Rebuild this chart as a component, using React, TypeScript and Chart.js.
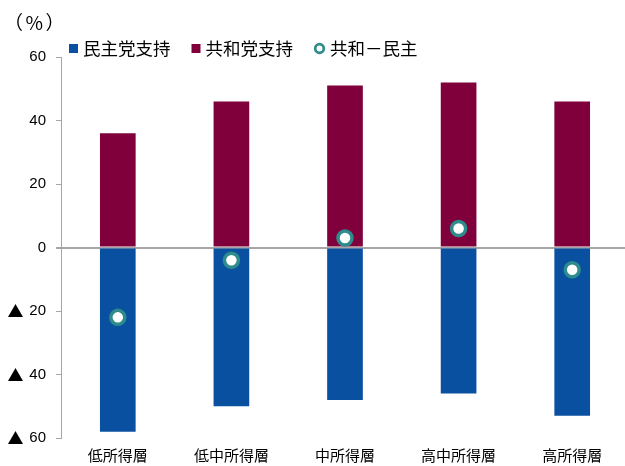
import { useEffect, useRef } from "react";
import { Chart, registerables } from "chart.js";

Chart.register(...registerables);

const categories = ["低所得層", "低中所得層", "中所得層", "高中所得層", "高所得層"];
const democrats = [-58, -50, -48, -46, -53];
const republicans = [36, 46, 51, 52, 46];
const difference = [-22, -4, 3, 6, -7];
const seriesLabels = ["民主党支持", "共和党支持", "共和－民主"];
const unitLabel = "（%）";
const negativeMark = "▲";

const BLUE = "#0a50a0";
const MAROON = "#80003c";
const TEAL = "#2e8c8c";
const GRAY = "#a6a6a6";
const CJK = '"Noto Sans CJK JP", "Noto Sans", sans-serif';
const LATIN = '"Liberation Sans", Arial, "Noto Sans CJK JP", sans-serif';

const customLegend = {
  id: "customLegend",
  afterDraw(chart: any) {
    const ctx = chart.ctx;
    ctx.save();
    // unit label
    ctx.font = `19px ${CJK}`;
    ctx.fillStyle = "#000";
    ctx.textBaseline = "middle";
    ctx.textAlign = "left";
    (ctx as any).letterSpacing = "2.5px";
    ctx.fillText(unitLabel, 4, 23);
    (ctx as any).letterSpacing = "0px";

    // negative marks on y ticks
    const y = chart.scales.y;
    ctx.font = `16px ${CJK}`;
    ctx.textAlign = "center";
    y.ticks.forEach((t: any) => {
      if (t.value < 0) {
        ctx.fillText(negativeMark, 15.5, y.getPixelForValue(t.value));
      }
    });

    // legend
    ctx.font = `17.5px ${CJK}`;
    ctx.textAlign = "left";
    const cy = 48.5;
    let x = 69;
    chart.data.datasets.forEach((ds: any) => {
      let mw = 9;
      if (ds.type === "line") {
        mw = 11;
        ctx.beginPath();
        ctx.arc(x + 5.5, cy, 4.3, 0, Math.PI * 2);
        ctx.lineWidth = 2.7;
        ctx.strokeStyle = ds.borderColor;
        ctx.fillStyle = "#fff";
        ctx.fill();
        ctx.stroke();
      } else {
        ctx.fillStyle = ds.backgroundColor;
        ctx.fillRect(x, cy - 4.5, 9, 9);
      }
      ctx.fillStyle = "#000";
      const tx = x + mw + 5;
      ctx.fillText(ds.label, tx, cy);
      const tw = ctx.measureText(ds.label).width;
      x = tx + tw + 21;
    });
    ctx.restore();
  },
};

export default function App() {
  const ref = useRef<HTMLCanvasElement | null>(null);
  useEffect(() => {
    if (!ref.current) return;
    const chart = new Chart(ref.current, {
      type: "bar",
      data: {
        labels: categories,
        datasets: [
          {
            type: "bar",
            label: seriesLabels[0],
            data: democrats,
            backgroundColor: BLUE,
            barPercentage: 0.314,
            categoryPercentage: 1,
            order: 1,
          },
          {
            type: "bar",
            label: seriesLabels[1],
            data: republicans,
            backgroundColor: MAROON,
            barPercentage: 0.314,
            categoryPercentage: 1,
            order: 1,
          },
          {
            type: "line",
            label: seriesLabels[2],
            data: difference,
            showLine: false,
            borderColor: TEAL,
            backgroundColor: "#fff",
            pointBackgroundColor: "#fff",
            pointBorderColor: TEAL,
            pointRadius: 7,
            pointBorderWidth: 3.5,
            order: 0,
          },
        ] as any,
      },
      options: {
        animation: false,
        responsive: false,
        layout: { autoPadding: false, padding: { top: 57, left: 0, right: 0, bottom: 0 } },
        plugins: {
          legend: { display: false },
          tooltip: { enabled: false },
          title: { display: false },
        },
        scales: {
          x: {
            stacked: true,
            grid: { display: false, drawTicks: false },
            border: { display: false },
            ticks: {
              color: "#000",
              font: { family: CJK, size: 15 },
              padding: 8,
            },
            afterFit: (s: any) => {
              s.height = 28;
              s.paddingLeft = 0;
              s.paddingRight = 0;
            },
          },
          y: {
            stacked: true,
            min: -60,
            max: 60,
            z: 1,
            ticks: {
              stepSize: 20,
              color: "#000",
              font: { family: LATIN, size: 15 },
              padding: 10,
              callback: (v: any) => String(Math.abs(v)),
            },
            grid: {
              color: (c: any) => (c.tick && c.tick.value === 0 ? GRAY : "rgba(0,0,0,0)"),
              lineWidth: (c: any) => (c.tick && c.tick.value === 0 ? 2 : 1),
              tickColor: GRAY,
              tickLength: 5,
              drawTicks: true,
            },
            border: { display: true, color: GRAY, width: 1 },
            afterFit: (s: any) => {
              s.width = 61;
            },
          },
        },
      },
      plugins: [customLegend],
    });
    return () => chart.destroy();
  }, []);
  return (
    <div style={{ position: "absolute", left: 0, top: 0, width: 625, height: 466, overflow: "hidden" }}>
      <canvas ref={ref} width={629} height={466} style={{ display: "block" }} />
    </div>
  );
}
